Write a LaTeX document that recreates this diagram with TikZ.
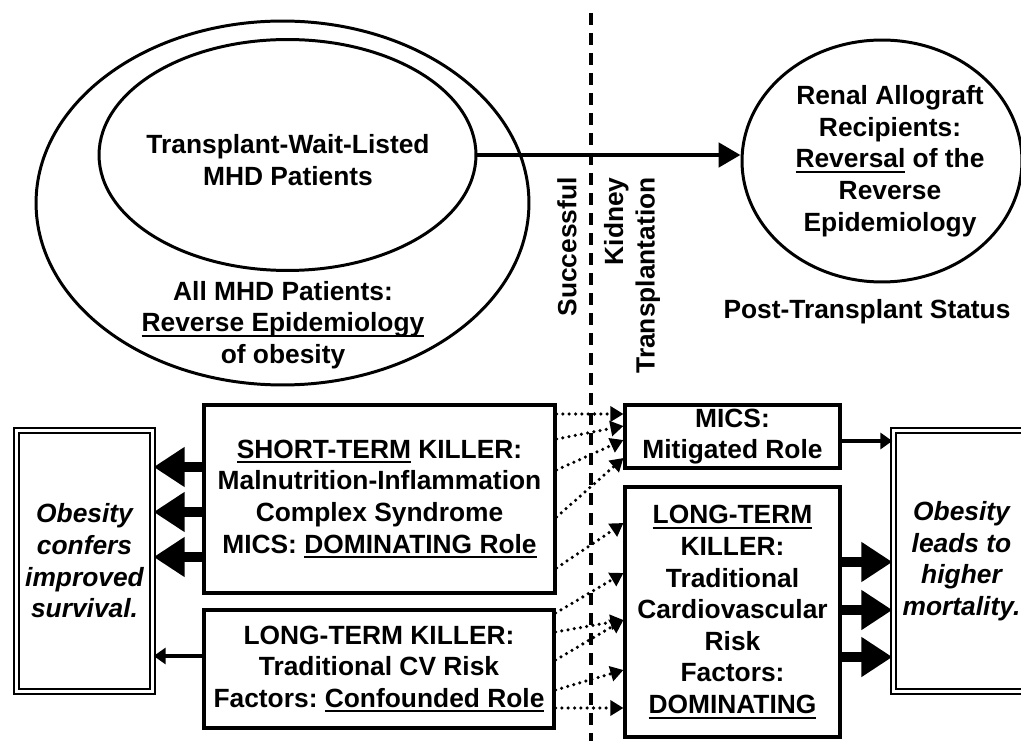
\documentclass[tikz,border=0pt]{standalone}
\usepackage{fontspec}
\setmainfont{Liberation Sans}
\usetikzlibrary{arrows.meta, shapes.geometric}

\frenchspacing
\newcommand{\ulbox}[1]{\setbox0\hbox{#1}\rlap{\rule[-2.8pt]{\wd0}{1.1pt}}\box0\relax}

\begin{document}
\begin{tikzpicture}[x = 0.02cm, y = 0.02cm,
	font = \fontsize{15}{18}\selectfont\bfseries,
	ring/.style = {draw, ellipse, line width = 1.7pt, inner sep = 0pt},
	txt/.style = {align = center, inner sep = 0pt},
	box/.style = {draw, line width = 1.8pt, align = center, inner sep = 1pt},
	dbox/.style = {draw, line width = 1.3pt, double, double distance = 1.2pt, align = center, inner sep = 1pt,
		minimum width = 2.72cm, minimum height = 5.22cm, font = \fontsize{15}{18}\selectfont\bfseries\itshape},
	fat/.style = {line width = 6pt, -{Triangle[length = 0.62cm, width = 0.76cm]}},
	slim/.style = {line width = 1.8pt, -{Triangle[length = 0.24cm, width = 0.32cm]}},
	dots/.style = {line width = 2pt, line cap = round, dash pattern = on 0pt off 3.6pt,
		-{Triangle[length = 0.26cm, width = 0.3cm]}}]

	% Page

	\clip (0, 0) rectangle (1021, 741);

	% Patient groups

	\node [ring, minimum width = 9.86cm, minimum height = 7.28cm] (allmhd) at (282.5, 538) {};
	\node [ring, minimum width = 7.54cm, minimum height = 4.62cm] (wait) at (287.5, 586) {};
	\node [ring, minimum width = 5.6cm, minimum height = 4.84cm] (renal) at (882, 580) {};

	\node [txt] (waittext) at (288, 581) {Transplant-Wait-Listed\\MHD Patients};
	\node [txt] (alltext) at (283, 416) {All MHD Patients:\\\ulbox{Reverse Epidemiology}\\of obesity};
	\node [txt] (renaltext) at (890, 580) {Renal Allograft\\Recipients:\\\ulbox{Reversal} of the\\Reverse\\Epidemiology};
	\node [txt] (status) at (867, 429) {Post-Transplant Status};

	\draw [line width = 2.8pt, -{Triangle[length = 0.44cm, width = 0.48cm]}] (wait.east) -- (renal.west |- wait.east);

	% Transplantation line

	\draw [line width = 1.8pt, dash pattern = on 0.25cm off 0.15cm] (591, 728) -- (591, 0);
	\node [txt, rotate = 90, anchor = east] (succ) at (567, 564) {Successful};
	\node [txt, rotate = 90, anchor = east, align = right] (kidney) at (632, 564) {Kidney\\Transplantation};

	% Killers

	\node [box, minimum width = 7.02cm, minimum height = 3.76cm] (short) at (379.5, 242)
		{\ulbox{SHORT-TERM} KILLER:\\Malnutrition-Inflammation\\Complex Syndrome\\MICS: \ulbox{DOMINATING Role}};
	\node [box, minimum width = 7.0cm, minimum height = 2.36cm] (longl) at (379, 72)
		{LONG-TERM KILLER:\\Traditional CV Risk\\Factors: \ulbox{Confounded Role}};
	\node [box, minimum width = 4.3cm, minimum height = 1.26cm] (mics) at (732.5, 304.5) {MICS:\\Mitigated Role};
	\node [box, minimum width = 4.3cm, minimum height = 5.0cm] (longr) at (732.5, 129)
		{\ulbox{LONG-TERM}\\KILLER:\\Traditional\\Cardiovascular\\Risk\\Factors:\\\ulbox{DOMINATING}};

	% Outcomes

	\node [dbox] (obel) at (84.5, 180) {Obesity\\confers\\improved\\survival.};
	\node [dbox] (ober) at (961.5, 180) {Obesity\\leads to\\higher\\mortality.};

	\foreach \h in {274, 229, 184}
		\draw [fat] (short.west |- 0,\h) -- (obel.east |- 0,\h);
	\draw [slim] (longl.west |- 0,85) -- (obel.east |- 0,85);

	\draw [slim] (mics.east |- 0,300) -- (ober.west |- 0,300);
	\foreach \h in {179, 131, 84}
		\draw [fat] (longr.east |- 0,\h) -- (ober.west |- 0,\h);

	% Shifts after transplantation

	\foreach \a/\b in {327/327, 302/315, 271/301, 224/283}
		\draw [dots] (short.east |- 0,\a) -- (mics.west |- 0,\b);
	\draw [dots] (short.east |- 0,173) -- (longr.west |- 0,218);
	\foreach \a/\b in {128/168, 109/121, 81/121, 51/71, 33/33}
		\draw [dots] (longl.east |- 0,\a) -- (longr.west |- 0,\b);

\end{tikzpicture}
\end{document}
